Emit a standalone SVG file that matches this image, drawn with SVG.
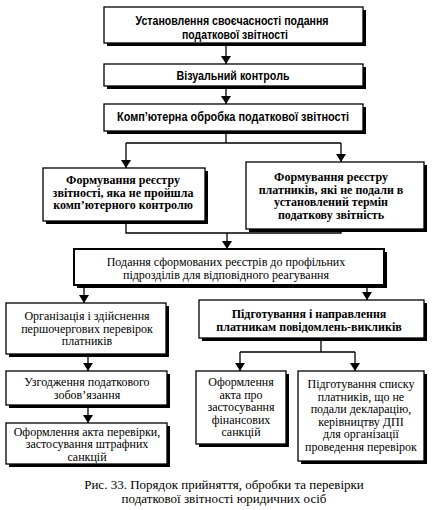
<svg xmlns="http://www.w3.org/2000/svg" width="432" height="510" viewBox="0 0 432 510">
<style>
.sh{fill:#000}
.bx{fill:#fff;stroke:#000;stroke-width:1.3}
.ss{font-family:"Liberation Sans",Arial,sans-serif;font-weight:bold;font-size:12px;text-anchor:middle;fill:#000}
.sf{font-family:"Liberation Serif","Times New Roman",serif;font-size:12px;text-anchor:middle;fill:#000}
.b{font-weight:bold}
.cap{font-family:"Liberation Serif","Times New Roman",serif;font-size:13px;text-anchor:middle;fill:#000}
.ln{fill:none;stroke:#000;stroke-width:1.3}
</style>
<defs>
<marker id="ah" markerWidth="8" markerHeight="10" refX="8" refY="5" orient="auto" markerUnits="userSpaceOnUse">
<path d="M0,0 L8,5 L0,10 Z" fill="#000"/>
</marker>
</defs>
<rect width="432" height="510" fill="#fff"/>
<g id="connectors">
<path class="ln" d="M226,43 V64" marker-end="url(#ah)"/>
<path class="ln" d="M226,86 V104" marker-end="url(#ah)"/>
<path class="ln" d="M226,131 V143 M126,143 H341"/>
<path class="ln" d="M126,143 V168" marker-end="url(#ah)"/>
<path class="ln" d="M341,143 V162" marker-end="url(#ah)"/>
<path class="ln" d="M126,221 V233 H341 V229"/>
<path class="ln" d="M227,233 V249" marker-end="url(#ah)"/>
<path class="ln" d="M84,285 V303" marker-end="url(#ah)"/>
<path class="ln" d="M367,285 V300" marker-end="url(#ah)"/>
<path class="ln" d="M88,354 V371" marker-end="url(#ah)"/>
<path class="ln" d="M321,338 V352 M240,352 H355"/>
<path class="ln" d="M240,352 V371" marker-end="url(#ah)"/>
<path class="ln" d="M355,352 V371" marker-end="url(#ah)"/>
<path class="ln" d="M88,405 V423" marker-end="url(#ah)"/>
</g>
<g id="n1">
<rect class="sh" x="107" y="10" width="259" height="36"/>
<rect class="bx" x="104" y="7" width="259" height="36"/>
<text class="ss" x="232" y="25" textLength="193" lengthAdjust="spacingAndGlyphs">Установлення своєчасності подання</text>
<text class="ss" x="235" y="39" textLength="106" lengthAdjust="spacingAndGlyphs">податкової звітності</text>
</g>
<g id="n2">
<rect class="sh" x="107" y="67" width="259" height="22"/>
<rect class="bx" x="104" y="64" width="259" height="22"/>
<text class="ss" x="233" y="80" textLength="113" lengthAdjust="spacingAndGlyphs">Візуальний контроль</text>
</g>
<g id="n3">
<rect class="sh" x="107" y="107" width="259" height="27"/>
<rect class="bx" x="104" y="104" width="259" height="27"/>
<text class="ss" x="233" y="121" textLength="232" lengthAdjust="spacingAndGlyphs">Комп’ютерна обробка податкової звітності</text>
</g>
<g id="n4">
<rect class="sh" x="46" y="171" width="162" height="53"/>
<rect class="bx" x="43" y="168" width="162" height="53"/>
<text class="sf b" x="123" y="184">Формування реєстру</text>
<text class="sf b" x="123" y="196.5">звітності, яка не пройшла</text>
<text class="sf b" x="123" y="209">комп’ютерного контролю</text>
</g>
<g id="n5">
<rect class="sh" x="249" y="165" width="178" height="67"/>
<rect class="bx" x="246" y="162" width="178" height="67"/>
<text class="sf b" x="331" y="181">Формування реєстру</text>
<text class="sf b" x="331" y="193.5">платників, які не подали в</text>
<text class="sf b" x="331" y="206">установлений термін</text>
<text class="sf b" x="331" y="218.5">податкову звітність</text>
</g>
<g id="n6">
<rect class="sh" x="77" y="252" width="310" height="36"/>
<rect class="bx" x="74" y="249" width="310" height="36" style="stroke-width:2"/>
<text class="sf" x="226" y="266">Подання сформованих реєстрів до профільних</text>
<text class="sf" x="226" y="279">підрозділів для відповідного реагування</text>
</g>
<g id="n7">
<rect class="sh" x="9" y="306" width="160" height="51"/>
<rect class="bx" x="6" y="303" width="160" height="51"/>
<text class="sf" x="87" y="320">Організація і здійснення</text>
<text class="sf" x="87" y="332.5">першочергових перевірок</text>
<text class="sf" x="87" y="345">платників</text>
</g>
<g id="n8">
<rect class="sh" x="202" y="303" width="225" height="38"/>
<rect class="bx" x="199" y="300" width="225" height="38"/>
<text class="sf b" x="309" y="318">Підготування і направлення</text>
<text class="sf b" x="309" y="331">платникам повідомлень-викликів</text>
</g>
<g id="n9">
<rect class="sh" x="9" y="374" width="161" height="34"/>
<rect class="bx" x="6" y="371" width="161" height="34"/>
<text class="sf" x="87" y="386">Узгодження податкового</text>
<text class="sf" x="87" y="398.5">зобов’язання</text>
</g>
<g id="n10">
<rect class="sh" x="9" y="426" width="161" height="41"/>
<rect class="bx" x="6" y="423" width="161" height="41"/>
<text class="sf" x="87" y="435.5">Оформлення акта перевірки,</text>
<text class="sf" x="87" y="448">застосування штрафних</text>
<text class="sf" x="87" y="460.5">санкцій</text>
</g>
<g id="n11">
<rect class="sh" x="199" y="374" width="90" height="73"/>
<rect class="bx" x="196" y="371" width="90" height="73"/>
<text class="sf" x="241" y="386">Оформлення</text>
<text class="sf" x="241" y="398.5">акта про</text>
<text class="sf" x="241" y="411">застосування</text>
<text class="sf" x="241" y="423.5">фінансових</text>
<text class="sf" x="241" y="436">санкцій</text>
</g>
<g id="n12">
<rect class="sh" x="301" y="374" width="126" height="90"/>
<rect class="bx" x="298" y="371" width="126" height="90"/>
<text class="sf" x="361" y="388">Підготування списку</text>
<text class="sf" x="361" y="400.5">платників, що не</text>
<text class="sf" x="361" y="413">подали декларацію,</text>
<text class="sf" x="361" y="425.5">керівництву ДПІ</text>
<text class="sf" x="361" y="438">для організації</text>
<text class="sf" x="361" y="450.5">проведення перевірок</text>
</g>
<g id="caption">
<text class="cap" x="224" y="489">Рис. 33. Порядок прийняття, обробки та перевірки</text>
<text class="cap" x="224" y="503">податкової звітності юридичних осіб</text>
</g>
</svg>
